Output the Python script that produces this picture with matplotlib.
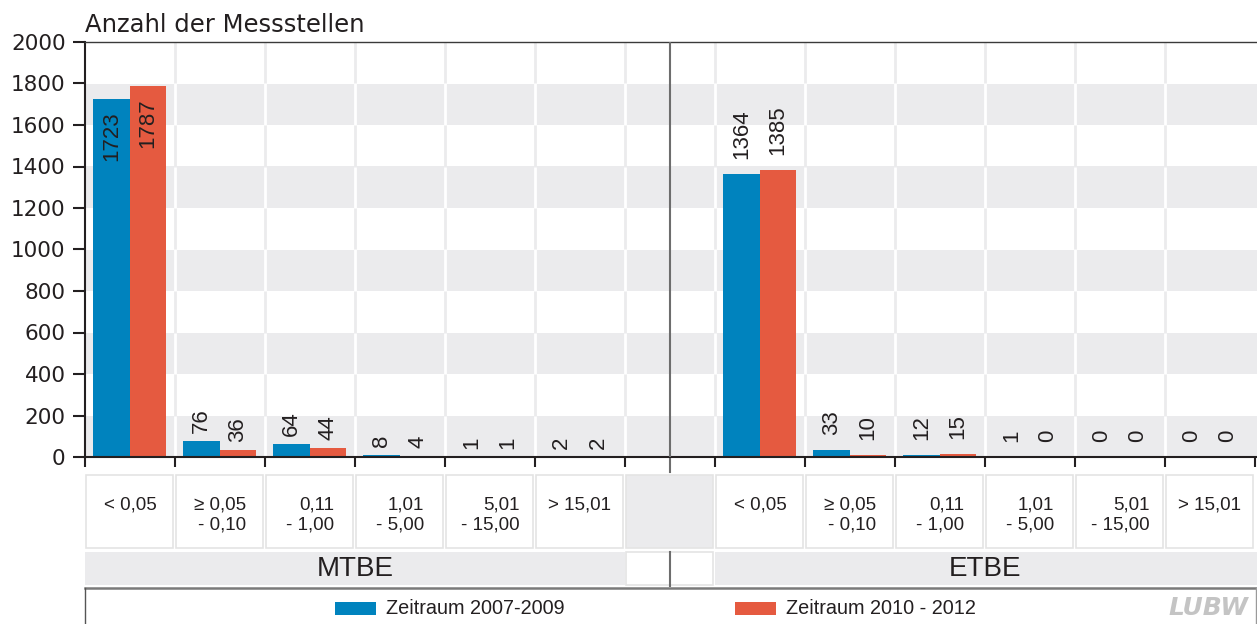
import matplotlib
matplotlib.use("Agg")
import matplotlib.pyplot as plt
from matplotlib import transforms
from matplotlib.patches import Rectangle
from matplotlib.lines import Line2D

plt.rcParams['font.family'] = ['Liberation Sans', 'DejaVu Sans']

# data
substances = ["MTBE", "ETBE"]
classes = ["< 0,05", "\u2265 0,05\n- 0,10", "0,11\n- 1,00",
           "1,01\n- 5,00", "5,01\n- 15,00", "> 15,01"]
periods = ["Zeitraum 2007-2009", "Zeitraum 2010 - 2012"]
mtbe_0709 = [1723, 76, 64, 8, 1, 2]
mtbe_1012 = [1787, 36, 44, 4, 1, 2]
etbe_0709 = [1364, 33, 12, 1, 0, 0]
etbe_1012 = [1385, 10, 15, 0, 0, 0]

BLUE = "#0083be"
RED = "#e55a40"
BAND = "#ebebed"
INK = "#231f20"

W, H = 1257, 624


def fx(px):
    return px / W


def fy(px):
    return 1 - px / H


fig = plt.figure(figsize=(W / 100, H / 100), dpi=100)
ax = fig.add_axes([fx(85), fy(457), 1172 / W, 415 / H])

n_cls = len(classes)
n_col = 2 * n_cls + 1          # 6 MTBE columns, 1 gap, 6 ETBE columns
ax.set_xlim(0, 1172 / 90)
ax.set_ylim(0, 2000)

# alternating bands and column separators
for y0 in range(0, 2000, 400):
    ax.axhspan(y0, y0 + 200, color=BAND, lw=0, zorder=0)
for c in range(1, n_col):
    ax.axvline(c, color=BAND, lw=2, zorder=0.5)
    for y0 in range(0, 2000, 400):
        ax.vlines(c, y0, y0 + 200, color="white", lw=2, zorder=0.6)

# bars + value labels
series = [(mtbe_0709, mtbe_1012, 8), (etbe_0709, etbe_1012, 15)]
for k, (first, second, pad) in enumerate(series):
    start = k * (n_cls + 1)
    centers = [start + i + 0.5 for i in range(n_cls)]
    xb = [x - 0.205 for x in centers]
    xr = [x + 0.2 for x in centers]
    ax.bar(xb, first, width=0.41, color=BLUE, zorder=2)
    ax.bar(xr, second, width=0.40, color=RED, zorder=2)
    for xs, vals in ((xb, first), (xr, second)):
        for x, v in zip(xs, vals):
            if v > 1500:
                ax.annotate(str(v), (x, v), xytext=(0, -12), textcoords="offset pixels",
                            rotation=90, ha="center", va="top", fontsize=16, color=INK, zorder=3)
            else:
                ax.annotate(str(v), (x, v), xytext=(0, pad), textcoords="offset pixels",
                            rotation=90, ha="center", va="bottom", fontsize=16, color=INK, zorder=3)

# axes styling
for s in ("left", "bottom"):
    ax.spines[s].set_color(INK)
    ax.spines[s].set_linewidth(1.5)
ax.spines["right"].set_visible(False)
ax.spines["top"].set_color("#3a3a3a")
ax.spines["top"].set_linewidth(1)
ax.set_yticks(range(0, 2001, 200))
ax.tick_params(axis="y", length=9, width=1.5, pad=5, labelsize=15.5, colors=INK)
for t in ax.get_yticklabels():
    t.set_family("DejaVu Sans")
ax.set_xticks(range(0, n_col + 1))
ax.set_xticklabels([])
ax.tick_params(axis="x", length=7, width=1.5, color=INK)

# separator between MTBE and ETBE
trans = transforms.blended_transform_factory(ax.transData, fig.transFigure)
sep = n_cls + 0.5
ax.axvline(sep, color="#6d6d6d", lw=1.5, zorder=3)
ax.plot([sep, sep], [fy(457), fy(472)], transform=trans, color="#6d6d6d", lw=1.5, clip_on=False)

# class label boxes
for c in range(n_col):
    gap = (c == n_cls)
    ax.add_patch(Rectangle((c + 0.01, fy(548)), 0.97, fy(475) - fy(548), transform=trans,
                           facecolor=BAND if gap else "white", edgecolor="#e4e4e4", lw=1.2,
                           clip_on=False))
for k in range(2):
    start = k * (n_cls + 1)
    for i, lab in enumerate(classes):
        ax.text(start + i + 0.5, fy(496), lab, transform=trans, ha="center", va="top",
                multialignment="right", fontsize=13.5, color=INK, linespacing=1.25)

# substance row
ax.add_patch(Rectangle((0, fy(585)), n_cls, fy(552) - fy(585), transform=trans,
                       facecolor=BAND, lw=0, clip_on=False))
ax.add_patch(Rectangle((n_cls + 1, fy(585)), 1172 / 90 - n_cls - 1, fy(552) - fy(585),
                       transform=trans, facecolor=BAND, lw=0, clip_on=False))
ax.add_patch(Rectangle((n_cls + 0.01, fy(585)), 0.97, fy(552) - fy(585), transform=trans,
                       facecolor="white", edgecolor="#e4e4e4", lw=1.2, clip_on=False))
ax.plot([sep, sep], [fy(552), fy(586)], transform=trans, color="#6d6d6d", lw=1.5, clip_on=False)
for k, name in enumerate(substances):
    ax.text(k * (n_cls + 1) + n_cls / 2, fy(569), name, transform=trans, ha="center",
            va="center", fontsize=20, color=INK)

# legend frame
fig.add_artist(Line2D([fx(85), fx(1257)], [fy(588), fy(588)], color="#7a7a7a", lw=1.8))
fig.add_artist(Line2D([fx(85), fx(85)], [fy(588), 0], color="#555555", lw=1))
fig.add_artist(Line2D([fx(1256), fx(1256)], [fy(588), 0], color="#9a9a9a", lw=1))
for x0, col, lab in ((335, BLUE, periods[0]), (735, RED, periods[1])):
    fig.add_artist(Rectangle((fx(x0), fy(615)), 41 / W, 13 / H, facecolor=col, lw=0,
                             transform=fig.transFigure))
    fig.text(fx(x0 + 51), fy(609), lab, fontsize=14.3, color=INK, va="center")
fig.text(fx(1248), fy(608), "LUBW", fontsize=18, fontstyle="italic", fontweight="bold",
         color="#c4c4c4", va="center", ha="right", family="Liberation Sans Narrow")

# title
fig.text(fx(85), fy(32), "Anzahl der Messstellen", fontsize=17.5, color=INK, va="baseline",
         family="DejaVu Sans")

fig.savefig("out.png", dpi=100)
